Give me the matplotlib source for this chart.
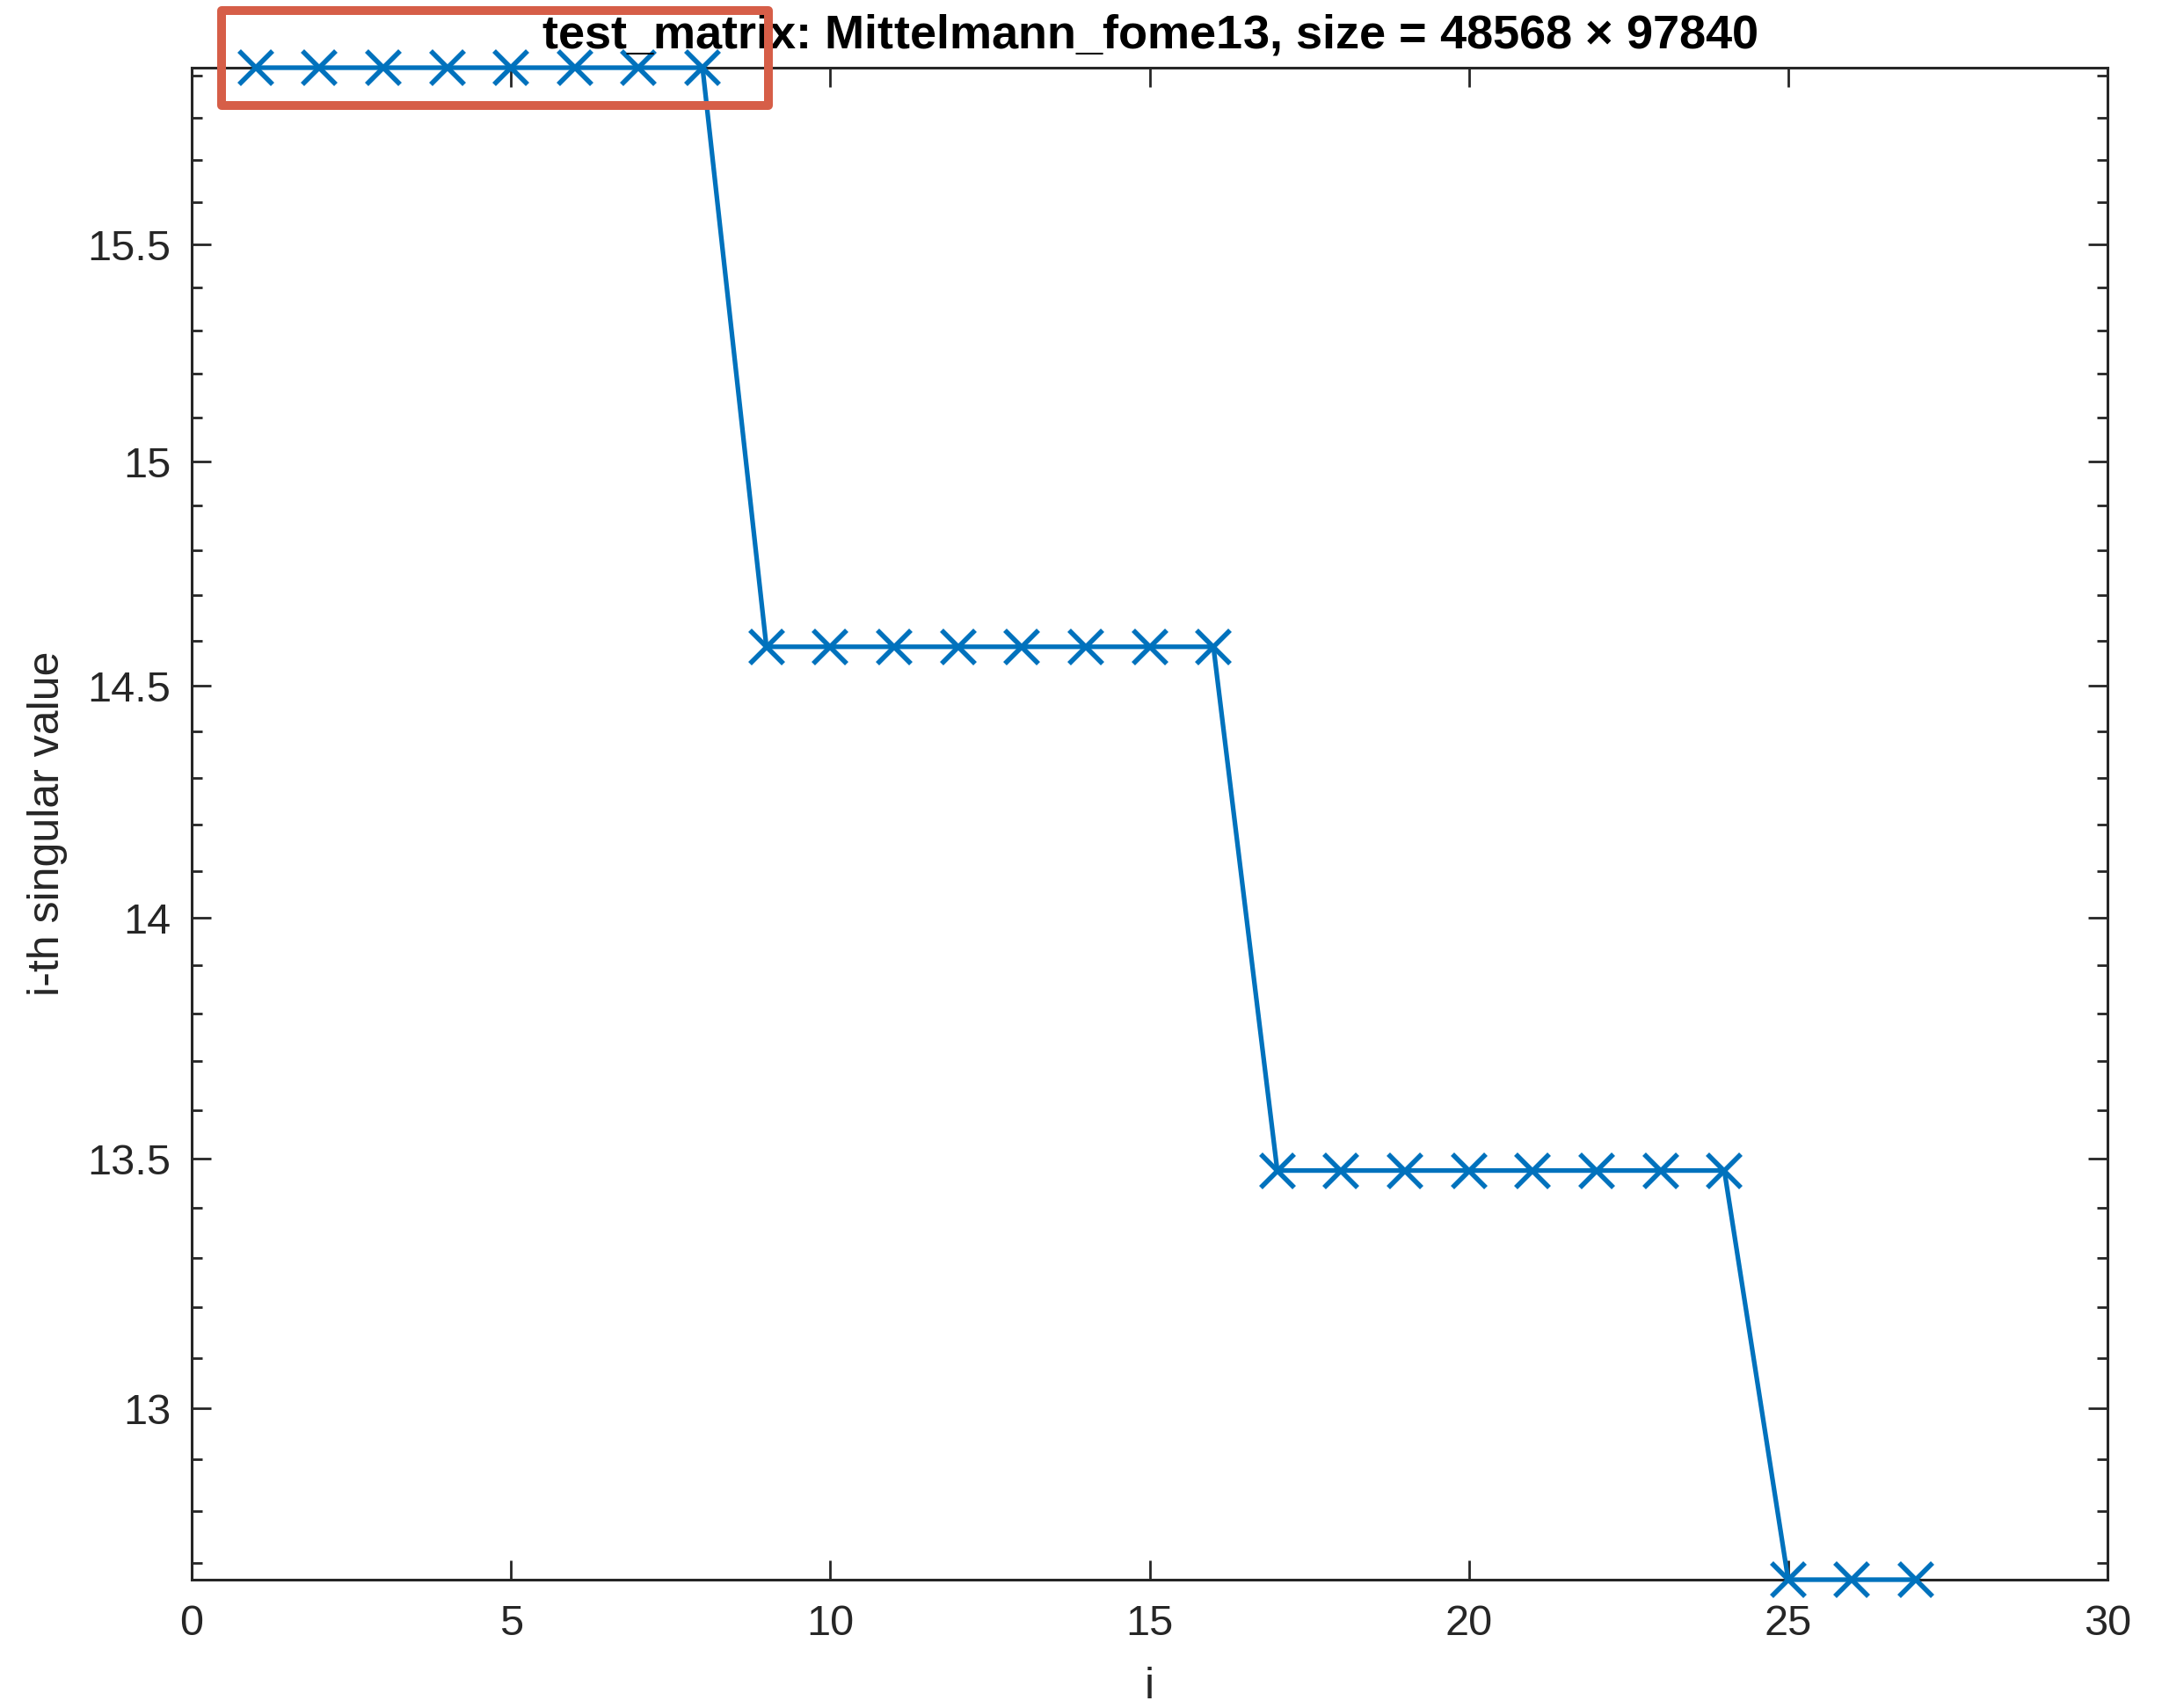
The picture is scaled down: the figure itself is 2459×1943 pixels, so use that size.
import matplotlib
matplotlib.use("Agg")
import matplotlib.pyplot as plt
from matplotlib.patches import Rectangle
from matplotlib.ticker import FixedLocator, FixedFormatter, MultipleLocator, NullFormatter, NullLocator

# singular values
index = list(range(1, 28))
sing_vals = [15.92] * 8 + [14.586] * 8 + [13.476] * 8 + [12.668] * 3

x_ticks = [0, 5, 10, 15, 20, 25, 30]
y_ticks = [13, 13.5, 14, 14.5, 15, 15.5]
y_tick_labels = ["13", "13.5", "14", "14.5", "15", "15.5"]

title = "test_matrix: Mittelmann_fome13, size = 48568 $\\times$ 97840"

W, H, DPI = 2459, 1943, 200
ink = "#262626"
blue = "#0072BD"

plt.rcParams["font.family"] = ["Liberation Sans", "DejaVu Sans"]
plt.rcParams["mathtext.fontset"] = "custom"
plt.rcParams["mathtext.rm"] = "Liberation Sans:bold"
plt.rcParams["mathtext.bf"] = "Liberation Sans:bold"

fig = plt.figure(figsize=(W / DPI, H / DPI), dpi=DPI)
ax = fig.add_axes([218 / W, 1 - 1797 / H, 2179 / W, 1720 / H])

ax.plot(index, sing_vals, color=blue, linewidth=1.9, marker="x",
        markersize=14, markeredgewidth=2.0, clip_on=False, zorder=3)

ax.set_yscale("log")
ax.set_xlim(0, 30)
ax.set_ylim(min(sing_vals), max(sing_vals))

ax.xaxis.set_major_locator(FixedLocator(x_ticks))
ax.yaxis.set_major_locator(FixedLocator(y_ticks))
ax.yaxis.set_major_formatter(FixedFormatter(y_tick_labels))
ax.yaxis.set_minor_locator(MultipleLocator(0.1))
ax.yaxis.set_minor_formatter(NullFormatter())
ax.xaxis.set_minor_locator(NullLocator())

ax.tick_params(axis="both", which="both", direction="in", top=True, right=True,
               colors=ink, labelcolor=ink, labelsize=17.5, width=1.0)
ax.tick_params(axis="both", which="major", length=8)
ax.tick_params(axis="y", which="minor", length=4.3)
ax.tick_params(axis="x", which="major", pad=10)
ax.tick_params(axis="y", which="major", pad=8.6)

for sp in ax.spines.values():
    sp.set_color(ink)
    sp.set_linewidth(1.1)

ax.set_xlabel("i", fontsize=18, color=ink, labelpad=9.5)
ax.set_ylabel("i-th singular value", fontsize=18, color=ink, labelpad=8)
ax.set_title(title, fontsize=19.5, fontweight="bold", color="black", pad=8)

# highlight box around the leading plateau
box = Rectangle((252 / W, 1 - 119.5 / H), (874 - 252) / W, 107.5 / H,
                transform=fig.transFigure, fill=False, edgecolor="#D65E48",
                linewidth=3.6, joinstyle="round", zorder=10)
fig.patches.append(box)

fig.savefig("out.png", dpi=DPI)
